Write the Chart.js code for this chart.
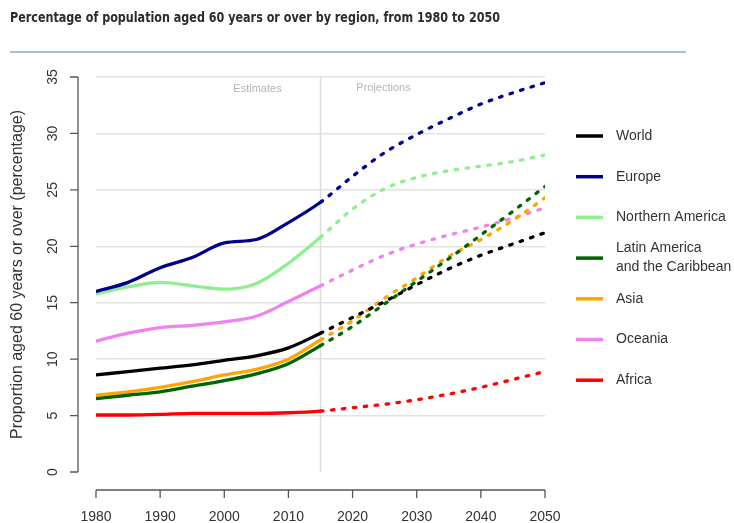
<!DOCTYPE html>
<html>
<head>
<meta charset="utf-8">
<script src="https://cdn.jsdelivr.net/npm/chart.js@4.4.0/dist/chart.umd.min.js"></script>
<style>
  html, body { margin: 0; padding: 0; background: #fff; }
  canvas { display: block; }
</style>
</head>
<body>
<canvas id="chart" width="734" height="523"></canvas>
<script>
// values, 5-year steps
const years = [1980, 1985, 1990, 1995, 2000, 2005, 2010, 2015, 2020, 2025, 2030, 2035, 2040, 2045, 2050];
const world   = [8.6, 8.9, 9.2, 9.5, 9.9, 10.3, 11.0, 12.3, 13.7, 15.1, 16.6, 18.0, 19.2, 20.2, 21.2];
const europe  = [16.0, 16.8, 18.1, 19.0, 20.3, 20.6, 22.1, 23.9, 26.2, 28.3, 29.9, 31.3, 32.6, 33.6, 34.5];
const northAm = [15.8, 16.4, 16.8, 16.5, 16.2, 16.7, 18.5, 20.8, 23.3, 25.1, 26.1, 26.7, 27.1, 27.5, 28.1];
const latinAm = [6.5, 6.8, 7.1, 7.6, 8.1, 8.7, 9.6, 11.2, 12.9, 14.9, 16.9, 18.9, 21.0, 23.1, 25.3];
const asia    = [6.8, 7.1, 7.5, 8.0, 8.6, 9.1, 10.0, 11.7, 13.4, 15.4, 17.2, 19.1, 20.6, 22.3, 24.3];
const oceania = [11.6, 12.3, 12.8, 13.0, 13.3, 13.8, 15.1, 16.5, 17.9, 19.2, 20.2, 21.0, 21.7, 22.5, 23.4];
const africa  = [5.05, 5.05, 5.1, 5.2, 5.2, 5.2, 5.25, 5.4, 5.7, 6.0, 6.4, 6.9, 7.5, 8.2, 8.9];

const regions = ['World', 'Europe', 'Northern America', 'Latin America\nand the Caribbean', 'Asia', 'Oceania', 'Africa'];
const series  = [world, europe, northAm, latinAm, asia, oceania, africa];
const colors  = ['#000000', '#00008b', '#90ee90', '#006400', '#ffa500', '#ee82ee', '#ff0000'];

const xTicks = [1980, 1990, 2000, 2010, 2020, 2030, 2040, 2050];
const yTicks = [0, 5, 10, 15, 20, 25, 30, 35];
const splitYear = 2015;

const title = 'Percentage of population aged 60 years or over by region, from 1980 to 2050';
const yTitle = 'Proportion aged 60 years or over (percentage)';
const FONT = '"Liberation Sans", Arial, sans-serif';

const datasets = regions.map((name, i) => ({
  label: name.replace('\n', ' '),
  data: years.map((yr, j) => ({ x: yr, y: series[i][j] })),
  borderColor: colors[i],
  borderWidth: 3.3,
  borderCapStyle: 'round',
  pointRadius: 0,
  cubicInterpolationMode: 'monotone',
  segment: {
    borderDash: ctx => ctx.p0.parsed.x >= splitYear ? [2.5, 8.5] : undefined
  }
}));

// light marker of estimates / projections split
const splitLine = {
  id: 'splitLine',
  beforeDatasetsDraw(chart) {
    const { ctx, scales: { x, y } } = chart;
    const px = x.getPixelForValue(splitYear);
    ctx.save();
    ctx.strokeStyle = '#dcdcdc';
    ctx.lineWidth = 1.5;
    ctx.beginPath();
    ctx.moveTo(px, y.getPixelForValue(35));
    ctx.lineTo(px, y.getPixelForValue(0));
    ctx.stroke();
    ctx.fillStyle = '#b4b4b4';
    ctx.font = '11px ' + FONT;
    ctx.textAlign = 'center';
    ctx.textBaseline = 'middle';
    ctx.fillText('Estimates', px - 63, y.getPixelForValue(35) + 12);
    ctx.fillText('Projections', px + 63, y.getPixelForValue(35) + 11);
    ctx.restore();
  }
};

// R-style detached axes, title and legend
const decor = {
  id: 'decor',
  afterDraw(chart) {
    const { ctx, scales: { x, y } } = chart;
    ctx.save();
    // title
    ctx.fillStyle = '#2b2b2b';
    ctx.font = 'bold 14px "Liberation Sans Narrow", "DejaVu Sans Condensed", ' + FONT;
    ctx.textBaseline = 'alphabetic';
    ctx.textAlign = 'left';
    const w = ctx.measureText(title).width;
    ctx.save();
    ctx.translate(10, 22);
    ctx.scale(490 / w, 1);
    ctx.fillText(title, 0, 0);
    ctx.restore();
    ctx.strokeStyle = '#a7c6b8';
    ctx.lineWidth = 2;
    ctx.beginPath();
    ctx.moveTo(10, 52);
    ctx.lineTo(686, 52);
    ctx.stroke();

    // axes
    ctx.strokeStyle = '#555';
    ctx.lineWidth = 1.3;
    ctx.fillStyle = '#333';
    ctx.font = '14px ' + FONT;
    const ax = x.getPixelForValue(xTicks[0]) - 18;
    const ay = y.getPixelForValue(yTicks[0]) + 18;
    ctx.beginPath();
    ctx.moveTo(ax, y.getPixelForValue(yTicks[0]));
    ctx.lineTo(ax, y.getPixelForValue(yTicks[yTicks.length - 1]));
    yTicks.forEach(v => {
      const py = y.getPixelForValue(v);
      ctx.moveTo(ax, py);
      ctx.lineTo(ax - 8, py);
    });
    ctx.moveTo(x.getPixelForValue(xTicks[0]), ay);
    ctx.lineTo(x.getPixelForValue(xTicks[xTicks.length - 1]), ay);
    xTicks.forEach(v => {
      const px = x.getPixelForValue(v);
      ctx.moveTo(px, ay);
      ctx.lineTo(px, ay + 8);
    });
    ctx.stroke();

    ctx.textAlign = 'center';
    ctx.textBaseline = 'middle';
    yTicks.forEach(v => {
      ctx.save();
      ctx.translate(ax - 25, y.getPixelForValue(v));
      ctx.rotate(-Math.PI / 2);
      ctx.fillText(String(v), 0, 0);
      ctx.restore();
    });
    xTicks.forEach(v => {
      ctx.fillText(String(v), x.getPixelForValue(v), ay + 27);
    });

    ctx.save();
    ctx.font = '16px ' + FONT;
    ctx.translate(18, (y.top + y.bottom) / 2);
    ctx.rotate(-Math.PI / 2);
    ctx.fillText(yTitle, 0, 0);
    ctx.restore();

    // legend
    ctx.font = '14px ' + FONT;
    ctx.textAlign = 'left';
    regions.forEach((name, i) => {
      const ly = 136 + i * 40.7;
      ctx.strokeStyle = colors[i];
      ctx.lineWidth = 3.5;
      ctx.beginPath();
      ctx.moveTo(576, ly);
      ctx.lineTo(603, ly);
      ctx.stroke();
      const lines = name.split('\n');
      lines.forEach((t, k) => {
        ctx.fillText(t, 616, ly + (k - (lines.length - 1) / 2) * 19);
      });
    });
    ctx.restore();
  }
};

new Chart(document.getElementById('chart'), {
  type: 'line',
  data: { datasets },
  options: {
    responsive: false,
    animation: false,
    layout: { padding: { left: 96, right: 189, top: 77, bottom: 51 } },
    plugins: { legend: { display: false }, tooltip: { enabled: false } },
    scales: {
      x: {
        type: 'linear', min: 1980, max: 2050, display: false
      },
      y: {
        type: 'linear', min: 0, max: 35,
        ticks: { display: false, stepSize: 5 },
        border: { display: false },
        grid: {
          drawTicks: false,
          lineWidth: 1.5,
          color: ctx => ctx.tick && ctx.tick.value === 0 ? 'rgba(0,0,0,0)' : '#e2e2e2'
        },
        afterFit: scale => { scale.width = 0; }
      }
    }
  },
  plugins: [splitLine, decor]
});
</script>
</body>
</html>
